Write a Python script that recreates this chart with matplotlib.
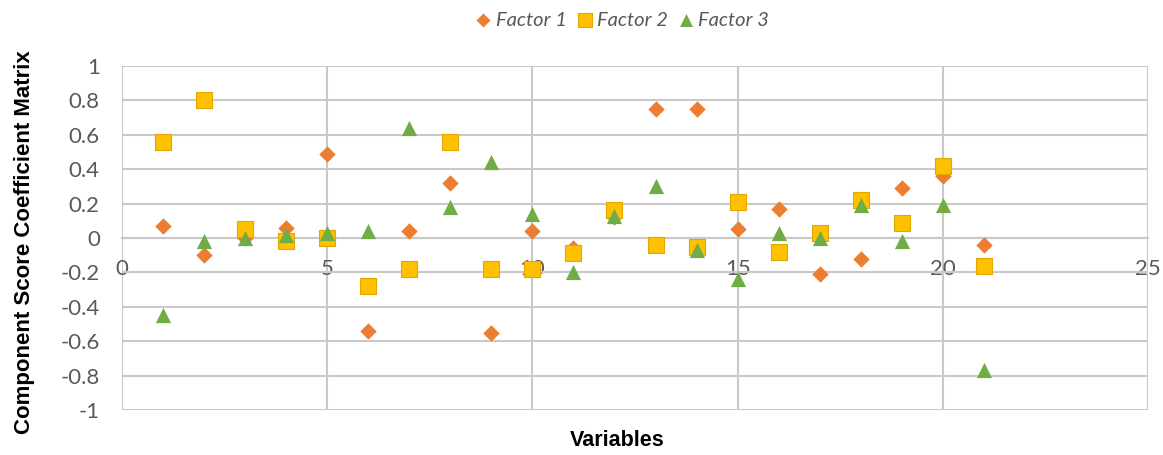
#component score coefficients for three factors
import matplotlib
matplotlib.use("Agg")
import matplotlib.pyplot as plt
import numpy as np

variables = list(range(1, 22))
factor1 = [0.07, -0.10, 0.00, 0.06, 0.49, -0.54, 0.04, 0.32, -0.55, 0.04, -0.06,
           0.12, 0.75, 0.75, 0.05, 0.17, -0.21, -0.12, 0.29, 0.36, -0.04]
factor2 = [0.56, 0.80, 0.05, -0.02, 0.00, -0.28, -0.18, 0.56, -0.18, -0.18, -0.09,
           0.16, -0.04, -0.05, 0.21, -0.08, 0.03, 0.22, 0.09, 0.42, -0.16]
factor3 = [-0.45, -0.02, 0.00, 0.02, 0.03, 0.04, 0.64, 0.18, 0.44, 0.14, -0.20,
           0.13, 0.30, -0.07, -0.24, 0.03, 0.00, 0.19, -0.02, 0.19, -0.77]

grid_col = "#c9c9c9"
tick_col = "#595959"

fig = plt.figure(figsize=(11.63, 4.55), dpi=100)
ax = fig.add_axes([122 / 1163, 45 / 455, (1148 - 122) / 1163, (410 - 66) / 455])

ax.scatter(variables, factor1, marker="D", s=70, color="#ED7D31", label="Factor 1", zorder=3, linewidths=0)
ax.scatter(variables, factor2, marker="s", s=140, color="#FFC000", edgecolors="#E0A800",
           linewidths=0.8, label="Factor 2", zorder=3)
ax.scatter(variables, factor3, marker="^", s=120, color="#70AD47", label="Factor 3", zorder=4, linewidths=0)

ax.set_xlim(0, 25)
ax.set_ylim(-1, 1)
yt = np.round(np.arange(-1, 1.01, 0.2), 1)
ax.set_xticks(np.arange(0, 26, 5))
ax.set_yticks(yt)
ax.set_yticklabels([("%g" % abs(v)) if abs(v) < 1e-9 else ("%g" % v) for v in yt])

ax.grid(True, color=grid_col, linewidth=1.5, zorder=0)
ax.set_axisbelow(True)
for side in ["top", "left", "right"]:
    ax.spines[side].set_visible(False)
ax.spines["bottom"].set_position(("data", 0))
ax.spines["bottom"].set_color(grid_col)
ax.spines["bottom"].set_linewidth(1.5)
ax.tick_params(axis="both", length=0, colors=tick_col, labelsize=16)
ax.tick_params(axis="x", pad=15)
ax.tick_params(axis="y", pad=16)
for lbl in ax.get_xticklabels() + ax.get_yticklabels():
    lbl.set_fontfamily("Lato")

fig.text(25 / 1163, 1 - 242 / 455, "Component Score Coefficient Matrix", rotation=90,
         ha="center", va="center", fontsize=16, fontweight="bold", fontfamily="Liberation Sans")
fig.text(617 / 1163, 1 - 441 / 455, "Variables", ha="center", va="center",
         fontsize=15.5, fontweight="bold", fontfamily="Liberation Sans")

leg = fig.legend(loc="center", bbox_to_anchor=(620 / 1163, 1 - 20 / 455), ncol=3, frameon=False,
                 handletextpad=0.0, columnspacing=0.3, handlelength=1.2, markerscale=0.85,
                 prop={"family": "Lato", "style": "italic", "size": 14.5})
for t in leg.get_texts():
    t.set_color(tick_col)

fig.savefig("out.png", dpi=100)
